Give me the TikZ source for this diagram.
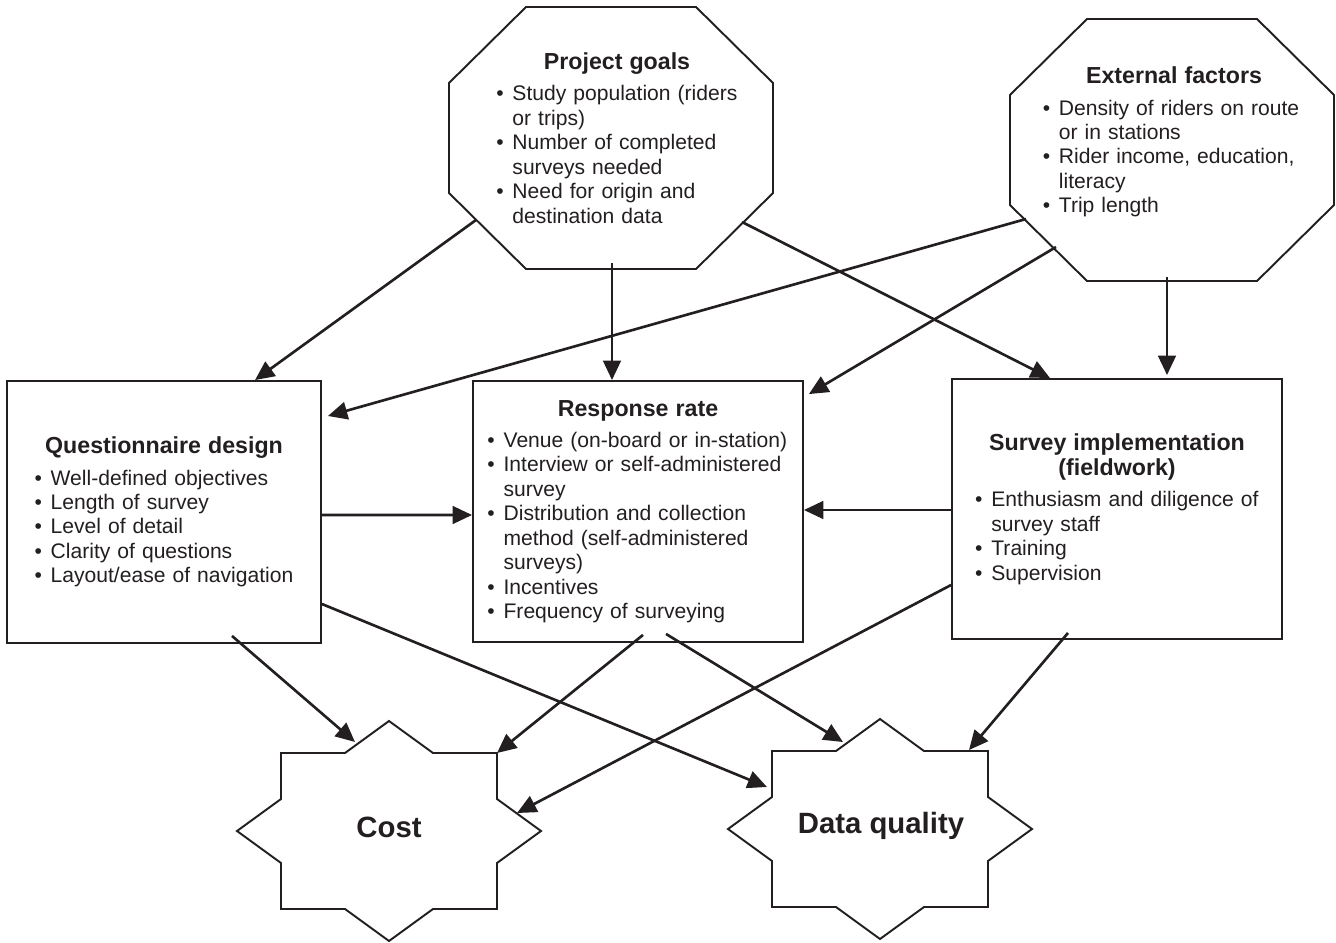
\documentclass[tikz,border=0pt]{standalone}
\usepackage{fontspec}
\setmainfont{Liberation Sans}
\usetikzlibrary{arrows.meta}
\usetikzlibrary{calc}

\definecolor{ink}{RGB}{35,31,32}

\newenvironment{pts}{%
  \begin{list}{\textbullet}{%
    \setlength{\leftmargin}{9.5pt}\setlength{\labelsep}{5pt}%
    \setlength{\labelwidth}{4.5pt}\setlength{\itemsep}{0pt}%
    \setlength{\parsep}{0pt}\setlength{\topsep}{0pt}%
    \setlength{\partopsep}{0pt}}}%
  {\end{list}}
\newcommand{\hd}[1]{{\centering\fontsize{13.2}{14.4}\selectfont\bfseries #1\par}\vspace{4pt}}

\begin{document}
\begin{tikzpicture}[x=0.02cm, y=-0.02cm]
    \tikzset{
      >={Triangle[length=11pt,width=10pt]},
      every node/.style={text=ink},
      txt/.style={font=\fontsize{12}{13.9}\selectfont, align=left},
      box/.style={draw=ink, line width=1.1pt, txt},
      big/.style={font=\fontsize{16.7}{20}\selectfont\bfseries},
      arr/.style={every edge/.append style={->, draw=ink, line width=1.5pt}},
      octo/.pic={
        \draw[ink, line width=1.1pt] (-85,-131) -- (85,-131) -- (162,-55) -- (162,55)
          -- (85,131) -- (-85,131) -- (-162,55) -- (-162,-55) -- cycle;
        \coordinate (-c) at (0,0);
      },
      burst/.pic={
        \draw[ink, line width=1.1pt] (-108,-78) -- (-44,-78) -- (0,-110) -- (44,-78)
          -- (108,-78) -- (108,-32) -- (152,0) -- (108,32) -- (108,78) -- (44,78)
          -- (0,110) -- (-44,78) -- (-108,78) -- (-108,32) -- (-152,0) -- (-108,-32) -- cycle;
        \coordinate (-c) at (0,0);
      },
    }
    \useasboundingbox (0,0) rectangle (1336,943);

    % top: goals and outside influences
    \pic (pg) at (611,138) {octo};
    \pic (ef) at (1172,150) {octo};
    \node[txt, text width=138pt] (pgt) at ($(pg-c)+(6,0)$) {\hd{Project goals}
      \begin{pts}
        \item Study population (riders\\ or trips)
        \item Number of completed\\ surveys needed
        \item Need for origin and\\ destination data
      \end{pts}};
    \node[txt, text width=150pt] (eft) at ($(ef-c)+(2,-8)$) {\hd{External factors}
      \begin{pts}
        \item Density of riders on route\\ or in stations
        \item Rider income, education,\\ literacy
        \item Trip length
      \end{pts}};

    % middle row
    \node[box, minimum width=6.28cm, minimum height=5.24cm, text width=148pt] (qd) at (164,512) {\hd{Questionnaire design}
      \begin{pts}
        \item Well-defined objectives
        \item Length of survey
        \item Level of detail
        \item Clarity of questions
        \item Layout/ease of navigation
      \end{pts}};
    \node[box, minimum width=6.6cm, minimum height=5.22cm, text width=172pt] (rr) at (638,511.5) {\hd{Response rate}
      \begin{pts}
        \item Venue (on-board or in-station)
        \item Interview or self-administered\\ survey
        \item Distribution and collection\\ method (self-administered\\ surveys)
        \item Incentives
        \item Frequency of surveying
      \end{pts}};
    \node[box, minimum width=6.6cm, minimum height=5.2cm, text width=162pt] (si) at (1117,509) {\hd{Survey implementation\\ (fieldwork)}
      \begin{pts}
        \item Enthusiasm and diligence of\\ survey staff
        \item Training
        \item Supervision
      \end{pts}};

    % outcomes
    \pic (cost) at (389,831) {burst};
    \pic (dq) at (880,829) {burst};
    \node[big, anchor=base] (costl) at ($(cost-c)+(0,6)$) {Cost};
    \node[big, anchor=base] (dql) at ($(dq-c)+(1,4)$) {Data quality};

    \path[arr]
      ($(pg-c)+(-135,82)$) edge ($(qd.north)+(91,0)$)
      ($(pg-c)+(1,125)$) edge ($(rr.north)+(-26,0)$)
      ($(pg-c)+(131,84)$) edge ($(si.north)+(-67,0)$)
      ($(ef-c)+(-146,69)$) edge ($(qd.east)+(6,-96)$)
      ($(ef-c)+(-116,97)$) edge ($(rr.north east)+(5,14)$)
      ($(ef-c)+(-5,127)$) edge ($(si.north)+(50,-3)$)
      ($(qd.east)+(0,3)$) edge ($(rr.west)+(0,3.5)$)
      ($(si.west)+(0,1)$) edge ($(rr.east)+(0,-1.5)$)
      ($(qd.south)+(68,-8)$) edge ($(cost-c)+(-34,-89)$)
      ($(qd.east)+(0,92)$) edge ($(dq-c)+(-113,-42)$)
      ($(rr.south)+(5,-8)$) edge ($(cost-c)+(108,-78)$)
      ($(rr.south)+(28,-9)$) edge ($(dq-c)+(-37,-87)$)
      ($(si.west)+(0,76)$) edge ($(cost-c)+(128,-18)$)
      ($(si.south)+(-49,-7)$) edge ($(dq-c)+(89,-79)$);
  \end{tikzpicture}
\end{document}
